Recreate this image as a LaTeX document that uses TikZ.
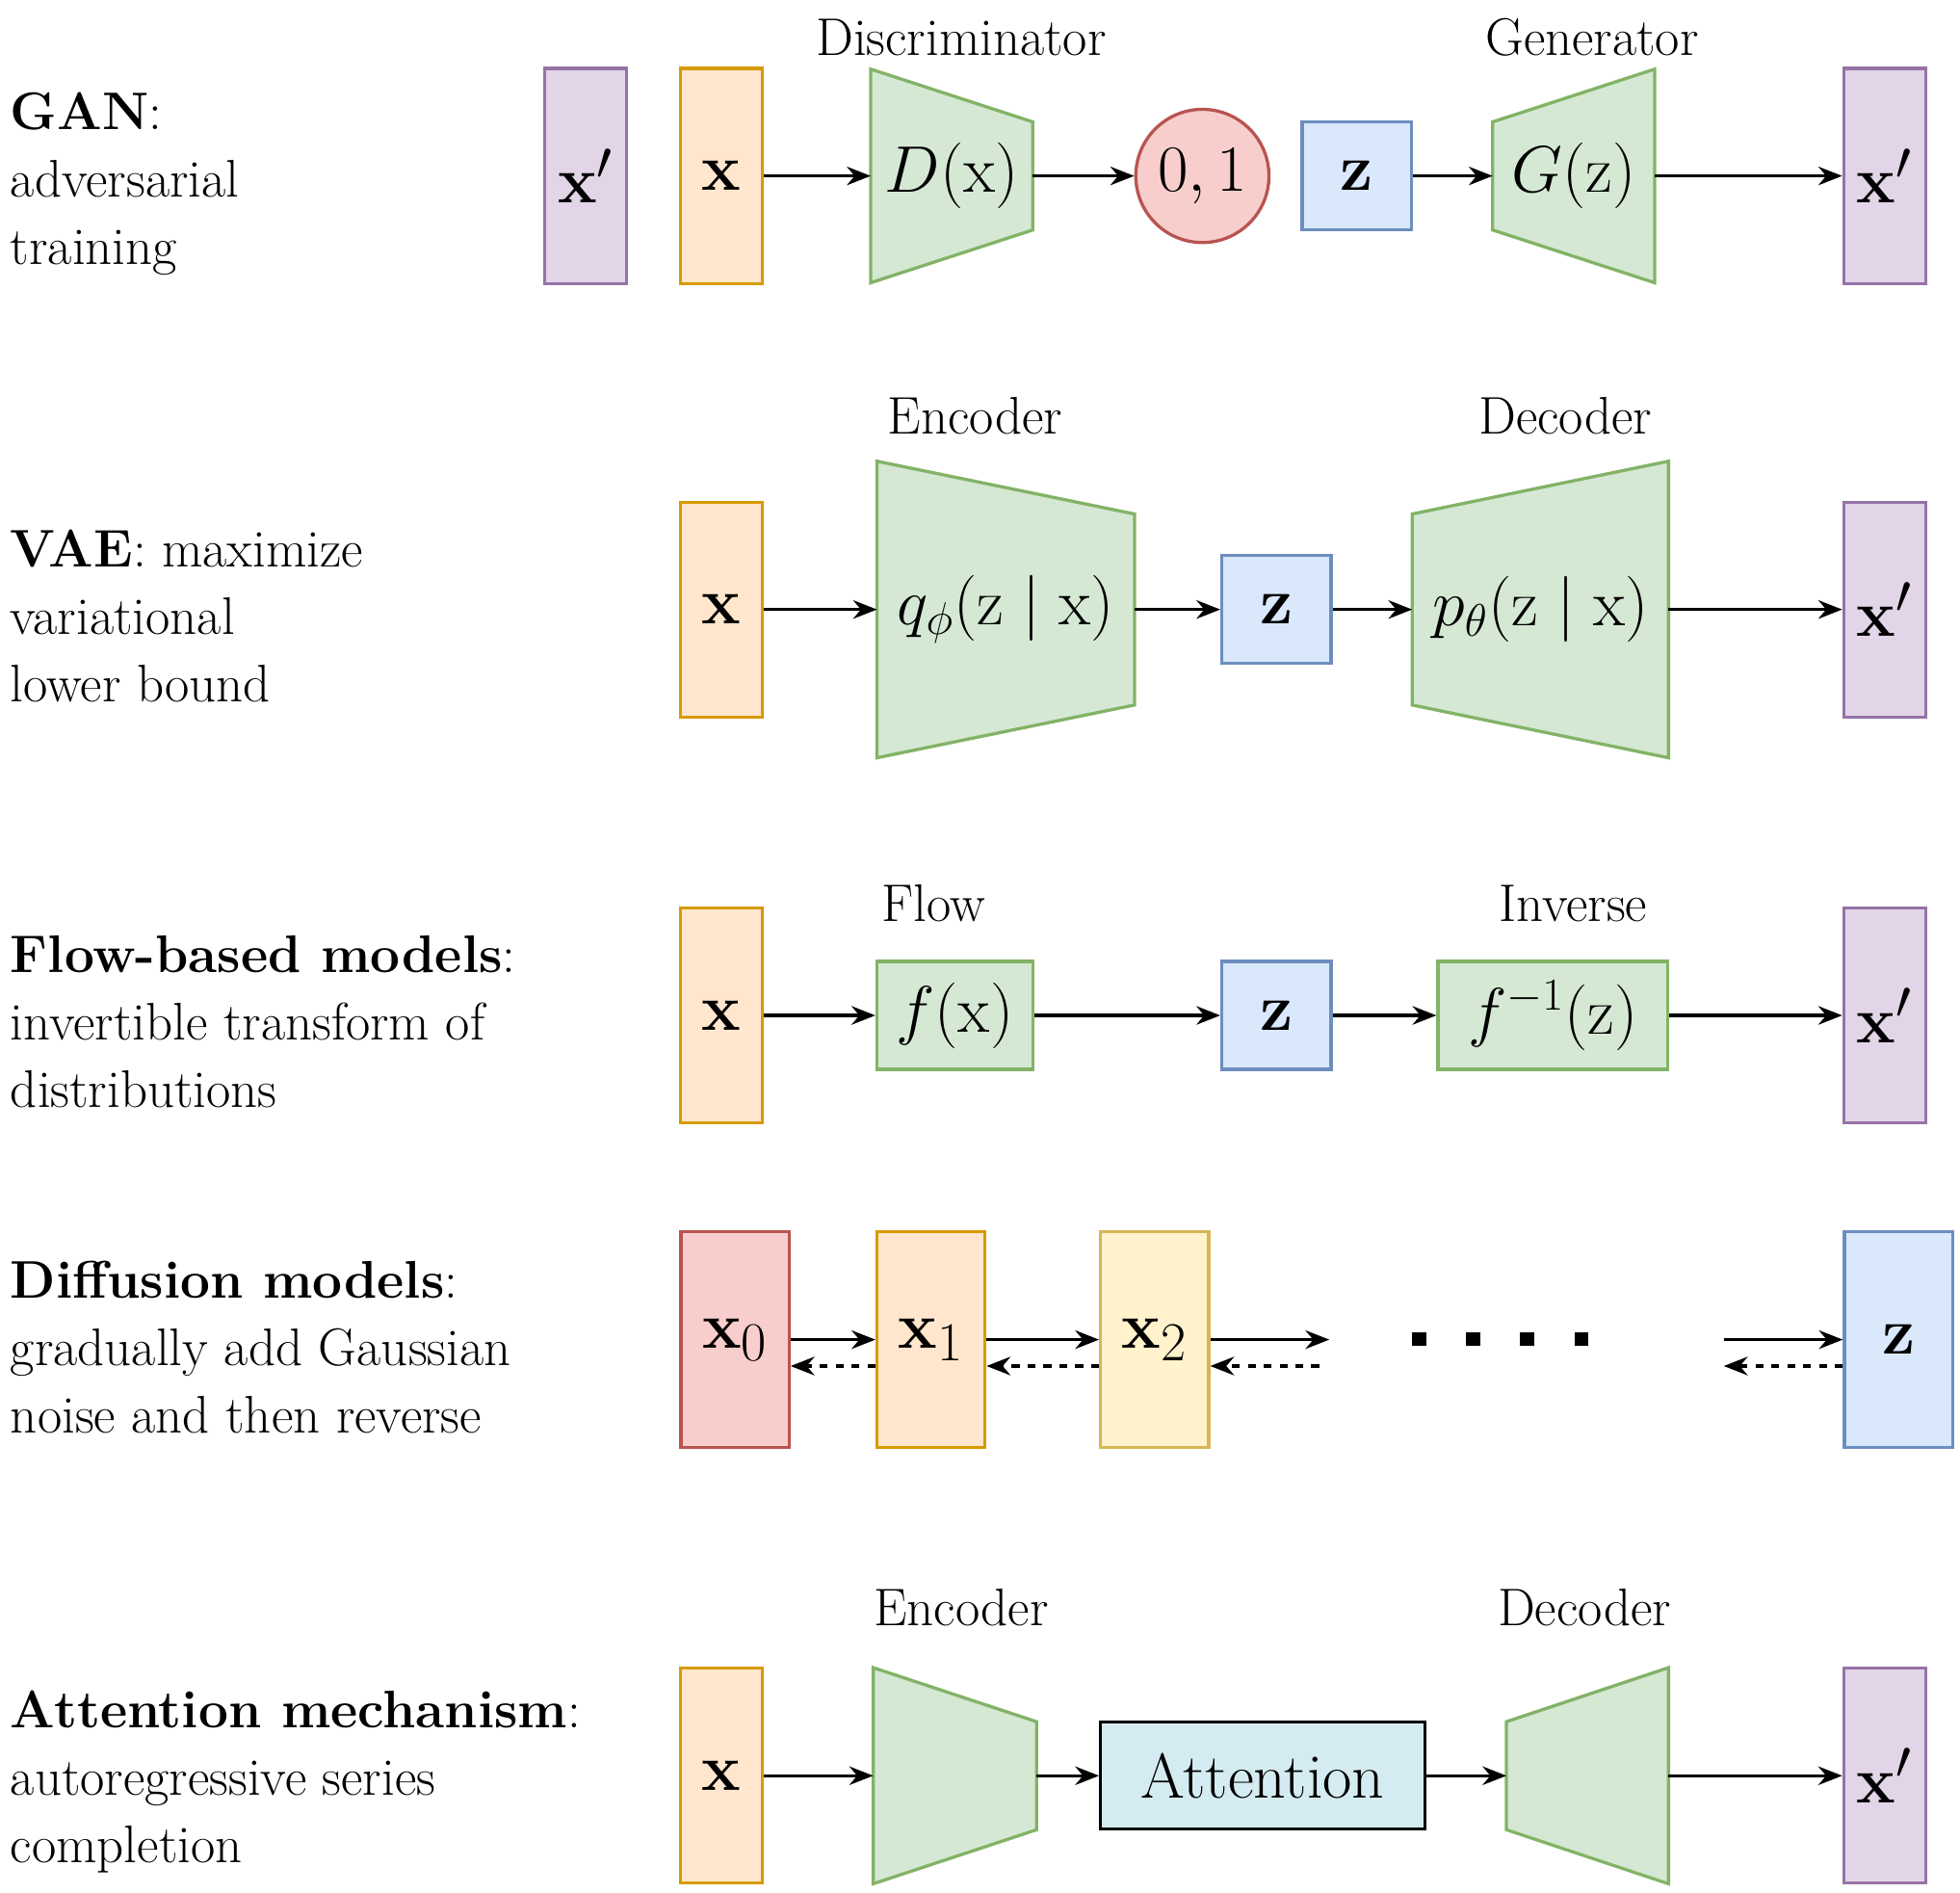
\documentclass[tikz,border=0pt]{standalone}
\usepackage{tikz}
\usepackage{amsmath}
\usetikzlibrary{arrows.meta,positioning}

\definecolor{orfill}{HTML}{FFE6CC}\definecolor{ordraw}{HTML}{D79B00}
\definecolor{pufill}{HTML}{E1D5E7}\definecolor{pudraw}{HTML}{9673A6}
\definecolor{grfill}{HTML}{D5E8D4}\definecolor{grdraw}{HTML}{82B366}
\definecolor{blfill}{HTML}{DAE8FC}\definecolor{bldraw}{HTML}{6C8EBF}
\definecolor{rdfill}{HTML}{F8CECC}\definecolor{rddraw}{HTML}{B85450}
\definecolor{yefill}{HTML}{FFF2CC}\definecolor{yedraw}{HTML}{D6B656}
\definecolor{atfill}{HTML}{D4ECF1}

\tikzset{
  box/.style={draw, line width=1.2pt, inner sep=0pt, font=\fontsize{30}{34}\selectfont},
  inbox/.style={box, fill=orfill, draw=ordraw, minimum width=65*0.0167cm, minimum height=171*0.0167cm},
  outbox/.style={box, fill=pufill, draw=pudraw, minimum width=65*0.0167cm, minimum height=171*0.0167cm},
  zbox/.style={box, fill=blfill, draw=bldraw, minimum width=87*0.0167cm, minimum height=86*0.0167cm},
  fbox/.style={box, fill=grfill, draw=grdraw, minimum height=86*0.0167cm, font=\fontsize{26}{30}\selectfont},
  hdr/.style={font=\fontsize{20}{24}\selectfont},
  desc/.style={anchor=west, align=left, inner sep=0pt, font=\fontsize{20}{25.5}\selectfont},
  arr/.style={-{Stealth[length=9pt,width=7pt]}, line width=1.2pt},
  back/.style={arr, dashed},
}

% trapezoid: name, x left, half height left, x right, half height right, y centre, text
\newcommand{\trapbox}[7]{
  \draw[fill=grfill, draw=grdraw, line width=1.2pt]
    (#2,#6-#3) -- (#4,#6-#5) -- (#4,#6+#5) -- (#2,#6+#3) -- cycle;
  \coordinate (#1-w) at (#2,#6);
  \coordinate (#1-e) at (#4,#6);
  \node[font=\fontsize{24}{28}\selectfont] (#1) at ({(#2+#4)/2},#6) {#7};
}

\begin{document}
\begin{tikzpicture}[x=0.0167cm, y=-0.0167cm]
\useasboundingbox (0,0) rectangle (1560,1506);

% GAN
\node[desc] (ganlbl) at (8,146) {\textbf{GAN}:\\adversarial\\training};
\node[outbox] (gxp0) at (466,140) {$\mathbf{x'}$};
\node[inbox] (gx) at (574,140) {$\mathbf{x}$};
\trapbox{disc}{693}{85}{822}{43}{140}{$D(\mathrm{x})$}
\node[circle, draw=rddraw, fill=rdfill, line width=1.2pt, minimum size=106*0.0167cm, inner sep=0pt,
  font=\fontsize{28}{32}\selectfont] (gout) at (957,140) {$0,1$};
\node[zbox] (gz) at (1080,140) {$\mathbf{z}$};
\trapbox{gen}{1188}{43}{1317}{85}{140}{$G(\mathrm{z})$}
\node[outbox] (gxp) at (1500,140) {$\mathbf{x'}$};
\node[hdr] (disclbl) at (765,30) {Discriminator};
\node[hdr] (genlbl) at (1267,30) {Generator};
\draw[arr] (gx) -- (disc-w);
\draw[arr] (disc-e) -- (gout);
\draw[arr] (gz) -- (gen-w);
\draw[arr] (gen-e) -- (gxp);

% VAE
\node[desc] (vaelbl) at (8,490) {\textbf{VAE}: maximize\\variational\\lower bound};
\node[inbox] (vx) at (574,485) {$\mathbf{x}$};
\trapbox{venc}{698}{118}{903}{76}{485}{$q_\phi(\mathrm{z}\mid\mathrm{x})$}
\node[zbox] (vz) at (1016,485) {$\mathbf{z}$};
\trapbox{vdec}{1124}{76}{1328}{118}{485}{$p_\theta(\mathrm{z}\mid\mathrm{x})$}
\node[outbox] (vxp) at (1500,485) {$\mathbf{x'}$};
\node[hdr] (venclbl) at (776,331) {Encoder};
\node[hdr] (vdeclbl) at (1246,331) {Decoder};
\draw[arr] (vx) -- (venc-w);
\draw[arr] (venc-e) -- (vz);
\draw[arr] (vz) -- (vdec-w);
\draw[arr] (vdec-e) -- (vxp);

% Flow
\node[desc] (flowlbl) at (8,813) {\textbf{Flow-based models}:\\invertible transform of\\distributions};
\node[inbox] (fx) at (574,808) {$\mathbf{x}$};
\node[fbox, minimum width=124*0.0167cm] (ff) at (760,808) {$f(\mathrm{x})$};
\node[zbox] (fz) at (1016,808) {$\mathbf{z}$};
\node[fbox, minimum width=183*0.0167cm] (finv) at (1236,808) {$f^{-1}(\mathrm{z})$};
\node[outbox] (fxp) at (1500,808) {$\mathbf{x'}$};
\node[hdr] (flbl) at (743,719) {Flow};
\node[hdr] (invlbl) at (1252,719) {Inverse};
\draw[arr] (fx) -- (ff);
\draw[arr] (ff) -- (fz);
\draw[arr] (fz) -- (finv);
\draw[arr] (finv) -- (fxp);

% Diffusion
\node[desc] (difflbl) at (8,1072) {\textbf{Diffusion models}:\\gradually add Gaussian\\noise and then reverse};
\node[box, fill=rdfill, draw=rddraw, minimum width=86*0.0167cm, minimum height=172*0.0167cm] (d0) at (585,1066) {$\mathbf{x}_0$};
\node[box, fill=orfill, draw=ordraw, minimum width=86*0.0167cm, minimum height=172*0.0167cm] (d1) at (741,1066) {$\mathbf{x}_1$};
\node[box, fill=yefill, draw=yedraw, minimum width=86*0.0167cm, minimum height=172*0.0167cm] (d2) at (919,1066) {$\mathbf{x}_2$};
\node[box, fill=blfill, draw=bldraw, minimum width=86*0.0167cm, minimum height=172*0.0167cm] (dz) at (1511,1066) {$\mathbf{z}$};
\coordinate (dr) at (1058,1066);
\coordinate (drb) at (1050,1087);
\coordinate (dl) at (1372,1066);
\coordinate (dlb) at (1372,1087);
\foreach \i in {0,...,3}
  \fill (1124+\i*43,1060) rectangle ++(11,11);
\draw[arr] (d0.east |- 0,1066) -- (d1.west |- 0,1066);
\draw[back] (d1.west |- 0,1087) -- (d0.east |- 0,1087);
\draw[arr] (d1.east |- 0,1066) -- (d2.west |- 0,1066);
\draw[back] (d2.west |- 0,1087) -- (d1.east |- 0,1087);
\draw[arr] (d2.east |- 0,1066) -- (dr);
\draw[back] (drb) -- (d2.east |- 0,1087);
\draw[arr] (dl) -- (dz.west |- 0,1066);
\draw[back] (dz.west |- 0,1087) -- (dlb);

% Attention
\node[desc] (attlbl) at (8,1418) {\textbf{Attention mechanism}:\\autoregressive series\\completion};
\node[inbox] (ax) at (574,1413) {$\mathbf{x}$};
\trapbox{aenc}{695}{86}{825}{43}{1413}{}
\node[box, fill=atfill, draw=black, minimum width=258*0.0167cm, minimum height=85*0.0167cm,
  font=\fontsize{24}{28}\selectfont] (att) at (1005,1413) {Attention};
\trapbox{adec}{1199}{43}{1328}{86}{1413}{}
\node[outbox] (axp) at (1500,1413) {$\mathbf{x'}$};
\node[hdr] (aenclbl) at (765,1279) {Encoder};
\node[hdr] (adeclbl) at (1261,1279) {Decoder};
\draw[arr] (ax) -- (aenc-w);
\draw[arr] (aenc-e) -- (att);
\draw[arr] (att) -- (adec-w);
\draw[arr] (adec-e) -- (axp);
\end{tikzpicture}
\end{document}
